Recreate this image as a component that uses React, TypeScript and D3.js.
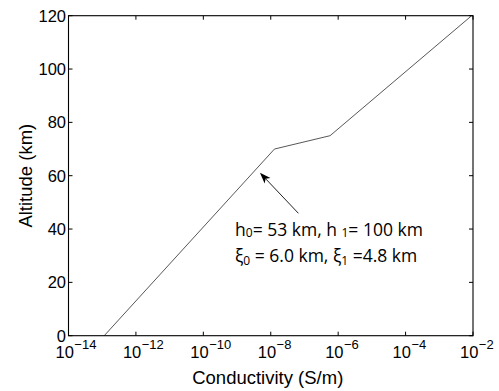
import React from "react";
import * as d3 from "d3";

const altitudes = [0, 70, 75, 120];
const logConductivity = [-12.94, -7.89, -6.24, -2.04];
const xTickExps = [-14, -12, -10, -8, -6, -4, -2];
const yTicks = [0, 20, 40, 60, 80, 100, 120];
const arrowFrom = { logX: -7.18, y: 45.9 };
const arrowTo = { logX: -8.32, y: 61.1 };
const noteAnchor = { logX: -9.06, y1: 37.5, y2: 27.8 };

const W = 499, H = 391;
const M = { left: 68.5, right: 473, top: 15.7, bottom: 335.7 };

export default function App() {
  const x = d3.scaleLog().domain([1e-14, 1e-2]).range([M.left, M.right]);
  const y = d3.scaleLinear().domain([0, 120]).range([M.bottom, M.top]);
  const pts: [number, number][] = altitudes.map((a, i) => [Math.pow(10, logConductivity[i]), a]);
  const line = d3.line<[number, number]>().x(d => x(d[0])).y(d => y(d[1]));
  const ax = x(Math.pow(10, arrowFrom.logX)), ay = y(arrowFrom.y);
  const bx = x(Math.pow(10, arrowTo.logX)), by = y(arrowTo.y);
  const ang = Math.atan2(by - ay, bx - ax);
  const hl = 11, hw = 4;
  const ux = Math.cos(ang), uy = Math.sin(ang);
  const base = [bx - ux * hl, by - uy * hl];
  const notch = [bx - ux * hl * 0.75, by - uy * hl * 0.75];
  const head = `M${bx},${by} L${base[0] - uy * hw},${base[1] + ux * hw} L${notch[0]},${notch[1]} L${base[0] + uy * hw},${base[1] - ux * hw} Z`;
  const font = "Liberation Sans, Arial, Helvetica, sans-serif";
  const nfont = "Open Sans, Noto Sans, sans-serif";
  const tx = x(Math.pow(10, noteAnchor.logX));
  const tk = 4;
  return (
    <svg width={W} height={H} style={{ position: "absolute", left: 0, top: 0 }} fontFamily={font}>
      <rect x={0} y={0} width={W} height={H} fill="#fff" />
      <path d={line(pts) ?? ""} fill="none" stroke="#444" strokeWidth={0.9} />
      {xTickExps.map(e => {
        const px = x(Math.pow(10, e));
        return (
          <g key={e}>
            <line x1={px} x2={px} y1={M.bottom} y2={M.bottom - tk} stroke="#000" />
            <line x1={px} x2={px} y1={M.top} y2={M.top + tk} stroke="#000" />
            <text x={px - 13} y={358.3} fontSize={16.5} fill="#000">
              10<tspan dy={-9} dx={0.5} fontSize={13}>{"\u2212" + Math.abs(e)}</tspan>
            </text>
          </g>
        );
      })}
      {yTicks.map(v => (
        <g key={v}>
          <line x1={M.left} x2={M.left + tk} y1={y(v)} y2={y(v)} stroke="#000" />
          <line x1={M.right} x2={M.right - tk} y1={y(v)} y2={y(v)} stroke="#000" />
          <text x={M.left - 2.5} y={y(v) + 6} fontSize={16.5} textAnchor="end" fill="#000">{v}</text>
        </g>
      ))}
      <rect x={M.left} y={M.top} width={M.right - M.left} height={M.bottom - M.top} fill="none" stroke="#000" strokeWidth={1.1} />
      <line x1={ax} y1={ay} x2={bx - ux * hl * 0.8} y2={by - uy * hl * 0.8} stroke="#222" strokeWidth={1} />
      <path d={head} fill="#000" />
      <text x={tx} y={y(noteAnchor.y1)} fontSize={17.5} fontFamily={nfont} fill="#000">
        h<tspan fontSize={12} dy={1.5}>0</tspan><tspan dy={-1.5}>= 53 km, h </tspan><tspan fontSize={12} dy={1.5}>1</tspan><tspan dy={-1.5}>= 100 km</tspan>
      </text>
      <text x={tx} y={y(noteAnchor.y2)} fontSize={17.5} fontFamily={nfont} fill="#000">
        ξ<tspan fontSize={12} dy={3}>0</tspan><tspan dy={-3}> = 6.0 km, ξ</tspan><tspan fontSize={12} dy={3}>1</tspan><tspan dy={-3}> =4.8 km</tspan>
      </text>
      <text x={(M.left + M.right) / 2 - 3} y={384} fontSize={18.5} textAnchor="middle" fill="#000">Conductivity (S/m)</text>
      <text transform={`translate(32,${(M.top + M.bottom) / 2}) rotate(-90)`} fontSize={18.5} textAnchor="middle" fill="#000">Altitude (km)</text>
    </svg>
  );
}
